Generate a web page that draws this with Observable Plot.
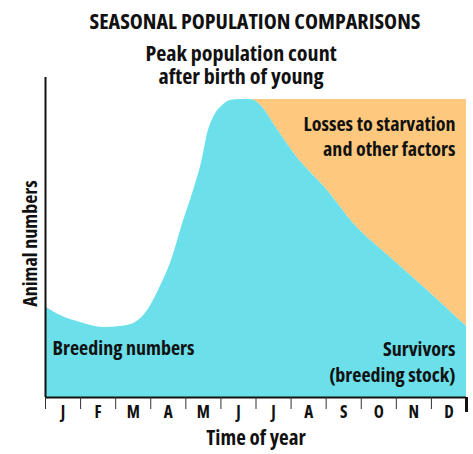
<!DOCTYPE html>
<html>
<head>
<meta charset="utf-8">
<script src="https://cdn.jsdelivr.net/npm/d3@7"></script>
<script src="https://cdn.jsdelivr.net/npm/@observablehq/plot@0.6"></script>
<style>
  html, body { margin: 0; padding: 0; background: #fff; }
  svg text { font-family: "Open Sans", sans-serif; font-stretch: 75%; font-weight: bold; }
</style>
</head>
<body>
<div id="chart"></div>
<script>
const months = ["J","F","M","A","M","J","J","A","S","O","N","D"];
const timeOfYear = [0, 0.43, 1.0, 1.65, 2.14, 2.51, 2.91, 3.22, 3.62, 3.91, 4.22, 4.48, 4.62, 4.79, 5.05, 5.27, 5.56, 5.84, 6.19, 6.50, 7.18, 8.04, 8.78, 9.83, 10.89, 12];
const animalNumbers = [30.5, 27.5, 25.2, 23.5, 23.8, 24.8, 29.2, 35.9, 47.0, 58.4, 69.5, 80.5, 88.6, 94.0, 98.0, 99.7, 100, 100, 97.3, 91.9, 80.5, 69.5, 58.4, 47.0, 35.9, 23.8];
const peakLevel = 100;
const peakTime = 5.56;

const data = timeOfYear.map((t, i) => ({t, v: animalNumbers[i]}));
const lossData = data.filter(d => d.t >= peakTime);

const cyan = "#6be0eb";
const orange = "#fec97e";
const curve = "monotone-x";
const ink = "#111";

const chart = Plot.plot({
  width: 473,
  height: 454,
  marginLeft: 45,
  marginRight: 7,
  marginTop: 77,
  marginBottom: 57,
  x: {domain: [0, 12]},
  y: {domain: [0, 107.4], axis: null},
  style: {color: ink, background: "#fff"},
  marks: [
    Plot.areaY(lossData, {x: "t", y1: "v", y2: () => peakLevel, fill: orange, curve}),
    Plot.areaY(data, {x: "t", y: "v", fill: cyan, curve}),
    Plot.ruleY([0], {stroke: ink, strokeWidth: 2}),
    Plot.ruleX([0], {stroke: ink, strokeWidth: 2}),
    Plot.axisX(d3.range(0, 12), {tickSize: 12, tickFormat: () => "", stroke: "#333", strokeWidth: 1, label: null}),
    Plot.axisX([12], {tickSize: 15, tickFormat: () => "", stroke: ink, strokeWidth: 3, label: null}),
    Plot.axisX(d3.range(0.5, 12, 1), {tickSize: 0, tickPadding: 8, tickFormat: (d, i) => months[i], fontSize: 17, fill: ink, label: null}),
    Plot.text(["SEASONAL POPULATION COMPARISONS"], {frameAnchor: "top", dx: -1, dy: -64, fontSize: 22, fill: ink}),
    Plot.text(["Peak population count\nafter birth of young"], {frameAnchor: "top", dx: -15, dy: -33, fontSize: 22, lineHeight: 1.05, fill: ink}),
    Plot.text(["Losses to starvation\nand other factors"], {frameAnchor: "top-right", dx: -11, dy: 36, fontSize: 20, lineHeight: 1.25, textAnchor: "end", fill: ink}),
    Plot.text(["Breeding numbers"], {frameAnchor: "bottom-left", dx: 7, dy: -43, fontSize: 20, textAnchor: "start", fill: ink}),
    Plot.text(["Survivors\n(breeding stock)"], {frameAnchor: "bottom-right", dx: -11, dy: -16, fontSize: 20, lineHeight: 1.3, textAnchor: "end", fill: ink}),
    Plot.text(["Animal numbers"], {frameAnchor: "left", dx: -15, dy: 6, rotate: -90, textAnchor: "middle", fontSize: 20, fill: ink}),
    Plot.text(["Time of year"], {frameAnchor: "bottom", dx: 0, dy: 47, fontSize: 21, fill: ink})
  ]
});
document.getElementById("chart").appendChild(chart);
</script>
</body>
</html>
